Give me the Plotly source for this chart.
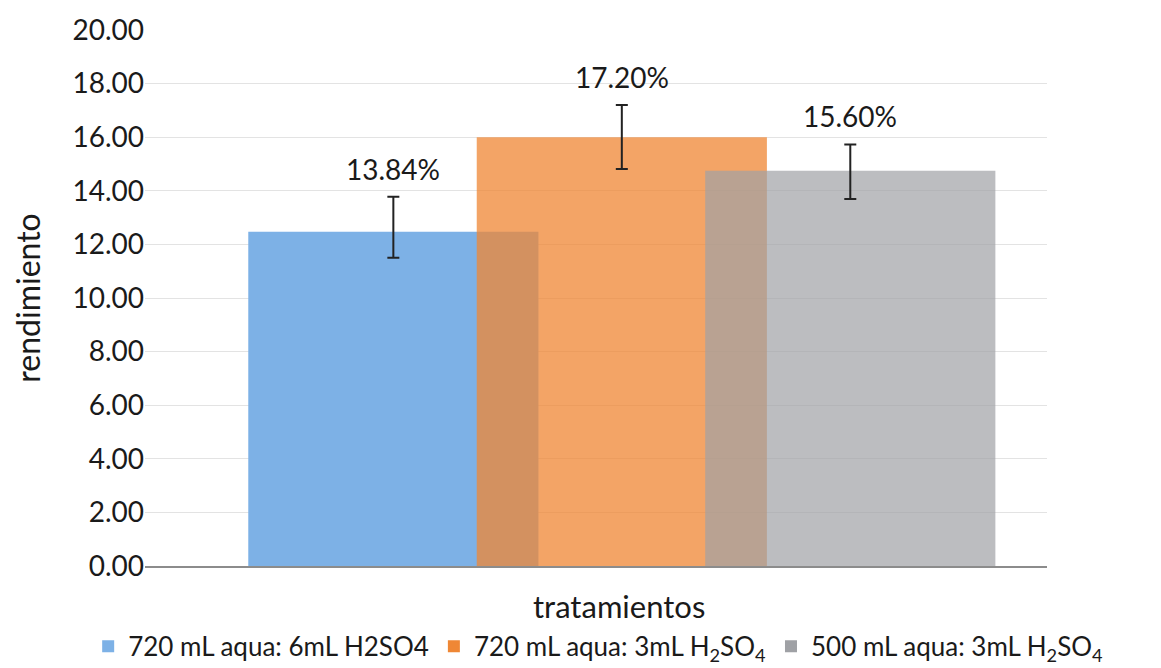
import plotly.graph_objects as go

# ---- data ----
series_names = [
    "720 mL aqua: 6mL H2SO4",
    "720 mL aqua: 3mL H<sub>2</sub>SO<sub>4</sub>",
    "500 mL aqua: 3mL H<sub>2</sub>SO<sub>4</sub>",
]
values = [12.47, 16.00, 14.75]
err_plus = [1.31, 1.20, 0.98]
err_minus = [0.97, 1.19, 1.06]
labels = ["13.84%", "17.20%", "15.60%"]
y_ticks = [0, 2, 4, 6, 8, 10, 12, 14, 16, 18, 20]

# ---- styles ----
colors = ["rgb(125,177,230)", "rgb(239,135,53)", "rgb(159,161,165)"]
opacities = [1.0, 0.756, 0.70]
FONT = "Lato, 'Open Sans', sans-serif"
TXT = "#1a1a1a"

fig = go.Figure()
for i, name in enumerate(series_names):
    fig.add_trace(go.Bar(
        x=[i], y=[values[i]], name=name,
        width=1.27,
        marker=dict(color=colors[i], opacity=opacities[i], line=dict(width=0)),
        error_y=dict(type="data", symmetric=False,
                     array=[err_plus[i]], arrayminus=[err_minus[i]],
                     color="#222222", thickness=2, width=6),
    ))
    fig.add_annotation(x=i, y=values[i] + err_plus[i], text=labels[i],
                       showarrow=False, yshift=28, yanchor="middle",
                       font=dict(family=FONT, size=28, color=TXT))

fig.add_annotation(xref="paper", yref="paper", x=0.526, y=-0.075,
                   text="tratamientos", showarrow=False, yanchor="middle",
                   font=dict(family=FONT, size=31, color=TXT))

fig.update_layout(
    width=1153, height=660,
    barmode="overlay",
    paper_bgcolor="white", plot_bgcolor="white",
    margin=dict(l=137, r=114, t=22, b=102, autoexpand=False),
    font=dict(family=FONT, size=28, color=TXT),
    showlegend=True,
    legend=dict(orientation="h",
                x=-0.063, xanchor="left", y=-0.150, yanchor="middle",
                font=dict(family=FONT, size=26, color=TXT),
                traceorder="normal", bgcolor="rgba(0,0,0,0)", itemwidth=30),
    xaxis=dict(range=[-1.087, 2.861], showticklabels=False, showgrid=False,
               zeroline=False, showline=True, linecolor="#8c8c8c", linewidth=2,
               ticks=""),
    yaxis=dict(range=[0, 20], tickvals=y_ticks, tickformat=".2f",
               showgrid=True, gridcolor="#e3e3e3", gridwidth=1,
               zeroline=False, showline=False, ticks="",
               title=dict(text="rendimiento", font=dict(family=FONT, size=32, color=TXT),
                          standoff=26),
               tickfont=dict(family=FONT, size=28, color=TXT)),
)

fig.write_html("out.html")
